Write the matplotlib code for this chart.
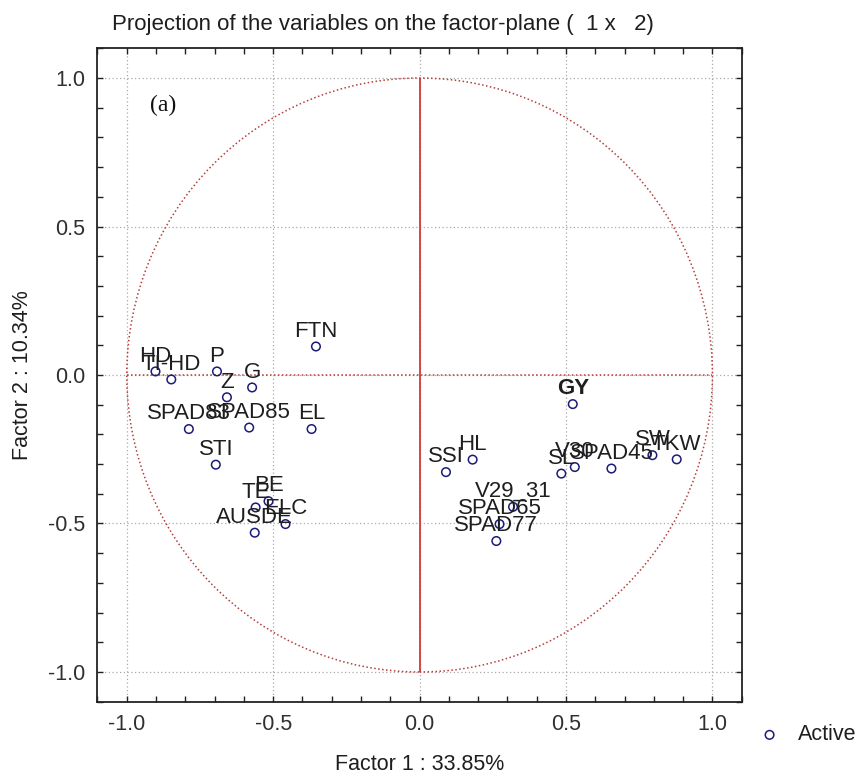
import matplotlib
matplotlib.use("Agg")
import matplotlib.pyplot as plt
from matplotlib.patches import Circle
from matplotlib.ticker import MultipleLocator, FormatStrFormatter

# Variable coordinates on the first two factors
variables = ["HD", "TI-HD", "P", "Z", "G", "FTN", "SPAD83", "SPAD85", "EL",
             "STI", "BE", "TE", "ELC", "AUSDE", "GY", "SSI", "HL", "SL",
             "V30", "SPAD45", "SW", "TKW", "V29_31", "SPAD65", "SPAD77"]
factor1 = [-0.902, -0.848, -0.692, -0.658, -0.572, -0.354, -0.788, -0.582, -0.369,
           -0.696, -0.516, -0.560, -0.458, -0.563, 0.523, 0.090, 0.181, 0.484,
           0.530, 0.655, 0.795, 0.878, 0.319, 0.273, 0.262]
factor2 = [0.012, -0.015, 0.012, -0.075, -0.042, 0.096, -0.182, -0.177, -0.182,
           -0.302, -0.425, -0.446, -0.502, -0.531, -0.098, -0.327, -0.285, -0.332,
           -0.310, -0.315, -0.270, -0.284, -0.444, -0.502, -0.559]
bold_labels = ["GY"]

title = "Projection of the variables on the factor-plane (  1 x   2)"
xlabel = "Factor 1 : 33.85%"
ylabel = "Factor 2 : 10.34%"
panel_tag = "(a)"

plt.rcParams["font.family"] = ["Liberation Sans", "DejaVu Sans"]
TEXT = "#1e1e1e"
MARK = "#1c1c78"
CIRC = "#b2403c"

fig = plt.figure(figsize=(8.56, 7.78), dpi=100)
ax = fig.add_axes([0.1139, 0.0981, 0.7526, 0.8398])
ax.set_xlim(-1.1, 1.1)
ax.set_ylim(-1.1, 1.1)

# grid at the major ticks
ax.xaxis.set_major_locator(MultipleLocator(0.5))
ax.yaxis.set_major_locator(MultipleLocator(0.5))
ax.xaxis.set_minor_locator(MultipleLocator(0.1))
ax.yaxis.set_minor_locator(MultipleLocator(0.1))
ax.xaxis.set_major_formatter(FormatStrFormatter("%.1f"))
ax.yaxis.set_major_formatter(FormatStrFormatter("%.1f"))
ax.grid(True, which="major", color="#a9a9a9", linestyle=(0, (1, 2)), linewidth=0.9)
ax.set_axisbelow(True)

ax.tick_params(which="both", direction="in", top=True, right=True,
               length=4, width=1.0, color="#222222")
ax.tick_params(axis="x", which="major", labelsize=15.5, pad=9, labelcolor="#303030")
ax.tick_params(axis="y", which="major", labelsize=15.5, pad=9, labelcolor="#303030")
for s in ax.spines.values():
    s.set_linewidth(1.3)
    s.set_color("#222222")

# unit circle and reference axes
ax.add_patch(Circle((0, 0), 1.0, fill=False, edgecolor=CIRC,
                    linestyle=(0, (1, 1.6)), linewidth=1.1, zorder=2))
ax.hlines(0, -1, 1, colors=CIRC, linestyles=[(0, (1, 1.6))], linewidth=1.1, zorder=2)
ax.vlines(0, -1, 1, colors="#d03a3a", linewidth=1.3, zorder=2)

# variable points
ax.scatter(factor1, factor2, s=38, facecolors="none", edgecolors=MARK,
           linewidths=1.1, zorder=4, label="Active")
for name, fx, fy in zip(variables, factor1, factor2):
    ax.annotate(name, (fx, fy), xytext=(0, 7), textcoords="offset points",
                ha="center", va="baseline", fontsize=16, color=TEXT,
                fontweight="bold" if name in bold_labels else "normal", zorder=5)

ax.text(0.1017, 0.9132, panel_tag, transform=ax.transAxes, ha="center", va="center",
        fontsize=17, family=["Liberation Serif", "DejaVu Serif"], color="#111111")

ax.set_xlabel(xlabel, fontsize=15.5, color=TEXT, va="center")
ax.xaxis.set_label_coords(0.5, -0.0969)
ax.set_ylabel(ylabel, fontsize=15.5, color=TEXT, va="center")
ax.yaxis.set_label_coords(-0.1157, 0.5)

fig.text(111.7 / 856, 1 - 30 / 778, title, ha="left", va="baseline",
         fontsize=16, color=TEXT)

ax.legend(loc="center left", bbox_to_anchor=(758.8 / 856, 1 - 735 / 778),
          bbox_transform=fig.transFigure, frameon=False, fontsize=15.5,
          handlelength=1.0, handletextpad=0.8, borderpad=0, borderaxespad=0,
          labelcolor=TEXT)

fig.savefig("out.png", dpi=100)
